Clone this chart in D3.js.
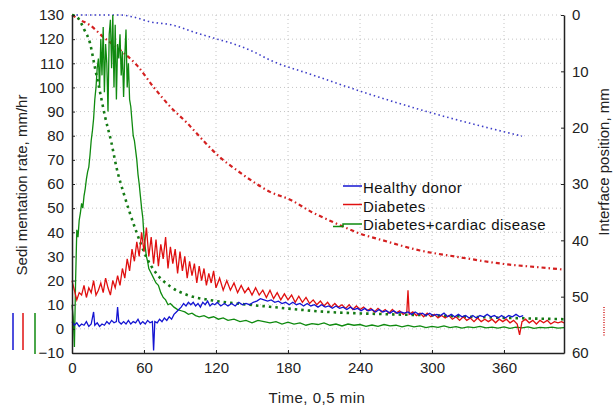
<!DOCTYPE html>
<html>
<head>
<meta charset="utf-8">
<script src="https://cdn.jsdelivr.net/npm/d3@7"></script>
<style>
  body { margin: 0; background: #fff; }
  svg { display: block; font-family: "Liberation Sans", Arial, sans-serif; }
</style>
</head>
<body>
<svg width="614" height="406"></svg>
<script>
// sedimentation rate, mm/hr  [time, value]
let healthyRate = [[0,3],[2,1.5],[4,2.5],[6,1],[8,2],[10,1.5],[12,3],[14,1],[16,2],[18,7],[19,1.5],[21,2.5],[23,1],[25,2],[27,1.5],[29,3],[31,2],[33,3.5],[35,2.5],[37,3],[38,9],[39,3],[41,2],[43,3],[45,2],[47,3.5],[49,2],[51,3],[53,2.5],[55,4],[57,2],[59,3],[61,2],[63,3.5],[65,2.5],[67,3],[68,-9],[69,3],[71,2.5],[73,4],[75,3],[77,4.5],[79,3.5],[81,5],[83,4],[85,6],[87,7],[89,8],[91,9],[93,10.5],[95,9.5],[97,11],[99,10],[101,11],[103,9.5],[105,10.5],[107,9],[109,11],[111,10],[113,11.5],[115,9.5],[117,10.5],[119,10],[121,11],[124,9.5],[127,10.5],[130,9.5],[133,10.5],[136,9.5],[139,11],[142,10],[145,10.5],[148,10],[151,11],[154,11.5],[157,12.5],[160,12],[163,11.5],[166,12],[169,11],[172,11.5],[175,10.5],[178,11],[181,10],[184,11],[187,10],[190,10.5],[193,9.5],[196,10.5],[199,9.5],[202,10],[205,9],[208,10],[211,9],[214,9.5],[217,8.5],[220,9.5],[223,8.5],[226,9],[229,8],[232,9],[235,8],[238,8.5],[241,7.5],[244,8.5],[247,7.5],[250,8],[253,7],[256,8],[259,7],[262,7.5],[265,6.5],[268,7.5],[271,6.5],[274,7],[277,6.5],[280,7],[283,6],[286,7],[289,6],[292,6.5],[295,5.5],[298,6.5],[301,5.5],[304,6],[307,5.5],[310,6.5],[313,5],[316,6],[319,5],[322,6],[325,5],[328,5.5],[331,4.5],[334,5.5],[337,4.5],[340,5.5],[343,5],[346,6],[349,5],[352,5.5],[355,4.5],[358,5.5],[361,4.5],[364,5.5],[367,5],[370,6],[373,5],[376,5.5]]

let diabetesRate = [[0,20],[2,16],[4,12],[6,15],[8,14],[10,18],[12,13],[14,17],[16,15],[18,20],[20,14],[22,16],[24,19],[26,15],[28,21],[30,17],[32,14],[34,20],[36,17],[38,22],[40,18],[42,25],[44,21],[46,29],[48,24],[50,33],[52,28],[54,36],[56,30],[58,40],[60,32],[62,42],[64,30],[66,38],[68,27],[70,37],[72,26],[74,35],[76,29],[78,38],[80,25],[82,34],[84,27],[86,33],[88,23],[90,32],[92,24],[94,30],[96,21],[98,28],[100,22],[102,27],[104,19],[106,26],[108,20],[110,25],[112,18],[114,23],[116,19],[118,24],[120,17],[123,21],[126,16],[129,20],[132,16],[135,19],[138,15],[141,18],[144,15],[147,17],[150,14],[153,17],[156,14],[159,16],[162,13],[165,16],[168,12.5],[171,15],[174,12],[177,14.5],[180,12],[183,14],[186,11],[189,13.5],[192,11],[195,13],[198,10.5],[201,12],[204,10],[207,11.5],[210,9.5],[213,11],[216,9],[219,10.5],[222,9],[225,10],[228,8.5],[231,10],[234,8],[237,9.5],[240,8],[243,9],[246,7.5],[249,8.5],[252,7],[255,8.5],[258,7],[261,8],[264,6.5],[267,8],[270,6.5],[273,7.5],[276,6],[279,7],[280,16],[281,6],[284,7],[287,5.5],[290,6.5],[293,5],[296,6.5],[299,5],[302,6],[305,4.5],[308,5.5],[311,4.5],[314,5.5],[317,4],[320,5],[323,3.5],[326,5],[329,3.5],[332,4.5],[335,3],[338,4.5],[341,3],[344,4],[347,3],[350,4],[353,2.5],[356,4],[359,3],[362,4],[365,2.5],[368,3.5],[371,2],[373,-2.5],[375,3],[378,4],[381,2.5],[384,3.5],[387,2],[390,3.5],[393,2.5],[396,3.5],[399,2],[402,3],[405,2.5],[408,3],[410,2.5]]

let cardiacRate = [[0,10],[1,5],[2,-7.5],[3,20],[4,41],[5,38],[6,45],[7,48],[8,52],[9,50],[10,55],[11,58],[12,62],[13,65],[14,67],[15,72],[16,78],[17,82],[18,87],[19,95],[20,100],[21,108],[22,112],[23,100],[24,120],[25,105],[26,125],[27,98],[28,118],[29,110],[30,90],[31,122],[32,128],[33,108],[34,130],[35,100],[36,126],[37,95],[38,118],[39,112],[40,122],[41,105],[42,115],[43,96],[44,113],[45,124],[46,100],[47,110],[48,95],[49,92],[50,86],[51,80],[52,78],[53,74],[54,70],[55,64],[56,60],[57,55],[58,50],[59,46],[60,38],[61,34],[62,30],[63,28],[64,25],[66,23],[68,21],[70,19],[72,18],[74,15],[76,13],[78,12],[80,10],[82,10.5],[85,9],[88,8],[91,7.5],[94,7],[97,6],[100,6.5],[103,5.5],[106,5],[110,5.5],[114,4.5],[118,5],[122,4],[126,4.5],[130,3.5],[135,4],[140,3],[145,3.5],[150,2.5],[155,3.5],[160,3],[165,2.5],[170,3],[175,2],[180,2.8],[185,2],[190,2.5],[195,1.5],[200,2.2],[205,1.8],[210,2.5],[215,1.5],[220,2],[225,1.2],[230,2],[235,1.5],[240,1.8],[245,1],[250,1.6],[255,1],[260,1.8],[265,1.2],[270,1.5],[275,0.8],[280,1.4],[285,0.8],[290,1.2],[295,0.5],[300,1],[305,0.6],[310,1.2],[315,0.5],[320,0.9],[325,0.3],[330,0.8],[335,0.5],[340,1],[345,0.4],[350,0.7],[355,0.3],[360,0.8],[365,0.2],[370,0.7],[375,0.4],[380,0.8],[385,0.2],[390,0.6],[395,0.4],[400,0.7],[405,0.3],[410,0.5]]

// interface position, mm  [time, value]
let healthyPos = [[0,0],[40,0],[50,0.3],[65,1.2],[84,1.8],[101,3],[118,4.1],[137,5.3],[151,6.5],[165,8],[200,10.6],[250,14.2],[300,17.4],[350,20.2],[375,21.5]]
let diabetesPos = [[0,0],[7,0.9],[15,1.8],[26,3.9],[40,6.2],[54,8.9],[68,12.8],[82,16.3],[96,19.2],[109,22.2],[123,25.2],[137,27.5],[151,29.6],[165,31.4],[182,32.8],[200,35],[217,36.7],[240,38.8],[259,40],[290,41.8],[323,43],[360,44.2],[390,44.8],[410,45.2]]
let cardiacPos = [[0,0],[4,0.3],[10,2.5],[15,5],[19,9.2],[23,13.3],[27.5,18],[33,22.8],[37,27],[43,31.6],[48,35],[54,38.7],[62,43],[70,45.8],[82,48.2],[96,49.7],[115,50.6],[137,51.2],[165,51.8],[212,52.7],[260,53.1],[296,53.3],[350,53.7],[410,54]]

let xTicks = [0, 60, 120, 180, 240, 300, 360]
let yTicks = [-10, 0, 10, 20, 30, 40, 50, 60, 70, 80, 90, 100, 110, 120, 130]
let y2Ticks = [0, 10, 20, 30, 40, 50, 60]
let legendNames = ["Healthy donor", "Diabetes", "Diabetes+cardiac disease"]
let colors = ["#1414d2", "#e01010", "#0f8a0f"]

let svg = d3.select("svg")
let plotLeft = 72, plotRight = 564, plotTop = 15, plotBottom = 353

let x = d3.scaleLinear().domain([0, 410]).range([plotLeft, plotRight])
let y = d3.scaleLinear().domain([-10, 130]).range([plotBottom, plotTop])
let y2 = d3.scaleLinear().domain([0, 60]).range([plotTop, plotBottom])

// grid
svg.append("g")
    .selectAll("line")
    .data(yTicks.filter(d => d > -10))
    .join("line")
    .attr("x1", plotLeft).attr("x2", plotRight)
    .attr("y1", d => y(d)).attr("y2", d => y(d))
    .style("stroke", "#c4c4c4")
    .style("stroke-dasharray", "1,3")

svg.append("g")
    .selectAll("line")
    .data(xTicks.filter(d => d > 0))
    .join("line")
    .attr("x1", d => x(d)).attr("x2", d => x(d))
    .attr("y1", plotTop).attr("y2", plotBottom)
    .style("stroke", "#c4c4c4")
    .style("stroke-dasharray", "1,3")

let line = d3.line()
    .x(d => x(d[0]))
    .y(d => y(d[1]))

let posLine = d3.line()
    .curve(d3.curveMonotoneX)
    .x(d => x(d[0]))
    .y(d => y2(d[1]))

// dotted interface curves
svg.append("path").attr("d", posLine(healthyPos))
    .style("fill", "none").style("stroke", "#3c3cc8")
    .style("stroke-width", 1.6).style("stroke-dasharray", "1.5,3")
svg.append("path").attr("d", posLine(diabetesPos))
    .style("fill", "none").style("stroke", "#d42020")
    .style("stroke-width", 2.2).style("stroke-dasharray", "4,3,1.5,3")
svg.append("path").attr("d", posLine(cardiacPos))
    .style("fill", "none").style("stroke", "#157a15")
    .style("stroke-width", 2.6).style("stroke-dasharray", "2.5,4")

// rate curves
let rates = [healthyRate, diabetesRate, cardiacRate]
svg.append("g")
    .selectAll("path")
    .data([cardiacRate, diabetesRate, healthyRate])
    .join("path")
    .attr("d", d => line(d))
    .style("fill", "none")
    .style("stroke", d => colors[rates.indexOf(d)])
    .style("stroke-width", 1.3)

// axes
svg.append("g")
    .attr("transform", `translate(${plotLeft},0)`)
    .call(d3.axisLeft(y).tickValues(yTicks).tickSizeInner(-3).tickSizeOuter(0).tickPadding(8))
svg.append("g")
    .attr("transform", `translate(0,${plotBottom})`)
    .call(d3.axisBottom(x).tickValues(xTicks).tickSizeInner(-3).tickSizeOuter(0).tickPadding(9))
svg.append("g")
    .attr("transform", `translate(${plotRight},0)`)
    .call(d3.axisRight(y2).tickValues(y2Ticks).tickSizeInner(-3).tickSizeOuter(0).tickPadding(8))

svg.selectAll(".domain").style("stroke", "#222").style("stroke-width", 1.5)
svg.selectAll(".tick line").style("stroke", "#222")
svg.selectAll(".tick text")
    .style("font-family", "'Liberation Sans', Arial, sans-serif")
    .style("font-size", "15px")
    .style("fill", "#222")

// axis titles
svg.append("text")
    .attr("transform", "translate(27,185) rotate(-90)")
    .attr("text-anchor", "middle")
    .style("font-size", "15px")
    .style("fill", "#222")
    .text("Sedi mentation rate, mm/hr")

svg.append("text")
    .attr("transform", "translate(609,162) rotate(-90)")
    .attr("text-anchor", "middle")
    .style("font-size", "15px")
    .style("fill", "#222")
    .text("Interface position, mm")

svg.append("text")
    .attr("x", 317).attr("y", 403)
    .attr("text-anchor", "middle")
    .style("font-size", "15px")
    .style("letter-spacing", "0.5px")
    .style("fill", "#222")
    .text("Time, 0,5 min")

// small series keys beside the axis titles
svg.append("g")
    .selectAll("line")
    .data(colors)
    .join("line")
    .attr("x1", (d, i) => [13, 23, 35][i]).attr("x2", (d, i) => [13, 23, 35][i])
    .attr("y1", 313).attr("y2", (d, i) => i == 2 ? 354 : 350)
    .style("stroke", d => d)
    .style("stroke-width", 1.5)

svg.append("line")
    .attr("x1", 604).attr("x2", 604)
    .attr("y1", 307).attr("y2", 337)
    .style("stroke", "#d42020")
    .style("stroke-width", 1.5)
    .style("stroke-dasharray", "1,1.5")

// legend
let legend = svg.append("g").attr("transform", "translate(343,188)")
legend.selectAll("text")
    .data(legendNames)
    .join("text")
    .attr("x", 20)
    .attr("y", (d, i) => i * 18.5)
    .attr("dy", "0.35em")
    .style("font-size", "15px")
    .style("letter-spacing", "0.45px")
    .style("fill", "#111")
    .text(d => d)
legend.selectAll("path")
    .data(colors)
    .join("path")
    .attr("d", (d, i) => i == 2
        ? `M-10,${i * 18.5 + 1.5}H0V${i * 18.5 - 1}H19`
        : `M0,${i * 18.5 - 2}H19`)
    .style("fill", "none")
    .style("stroke", d => d)
    .style("stroke-width", 1.5)
</script>
</body>
</html>
